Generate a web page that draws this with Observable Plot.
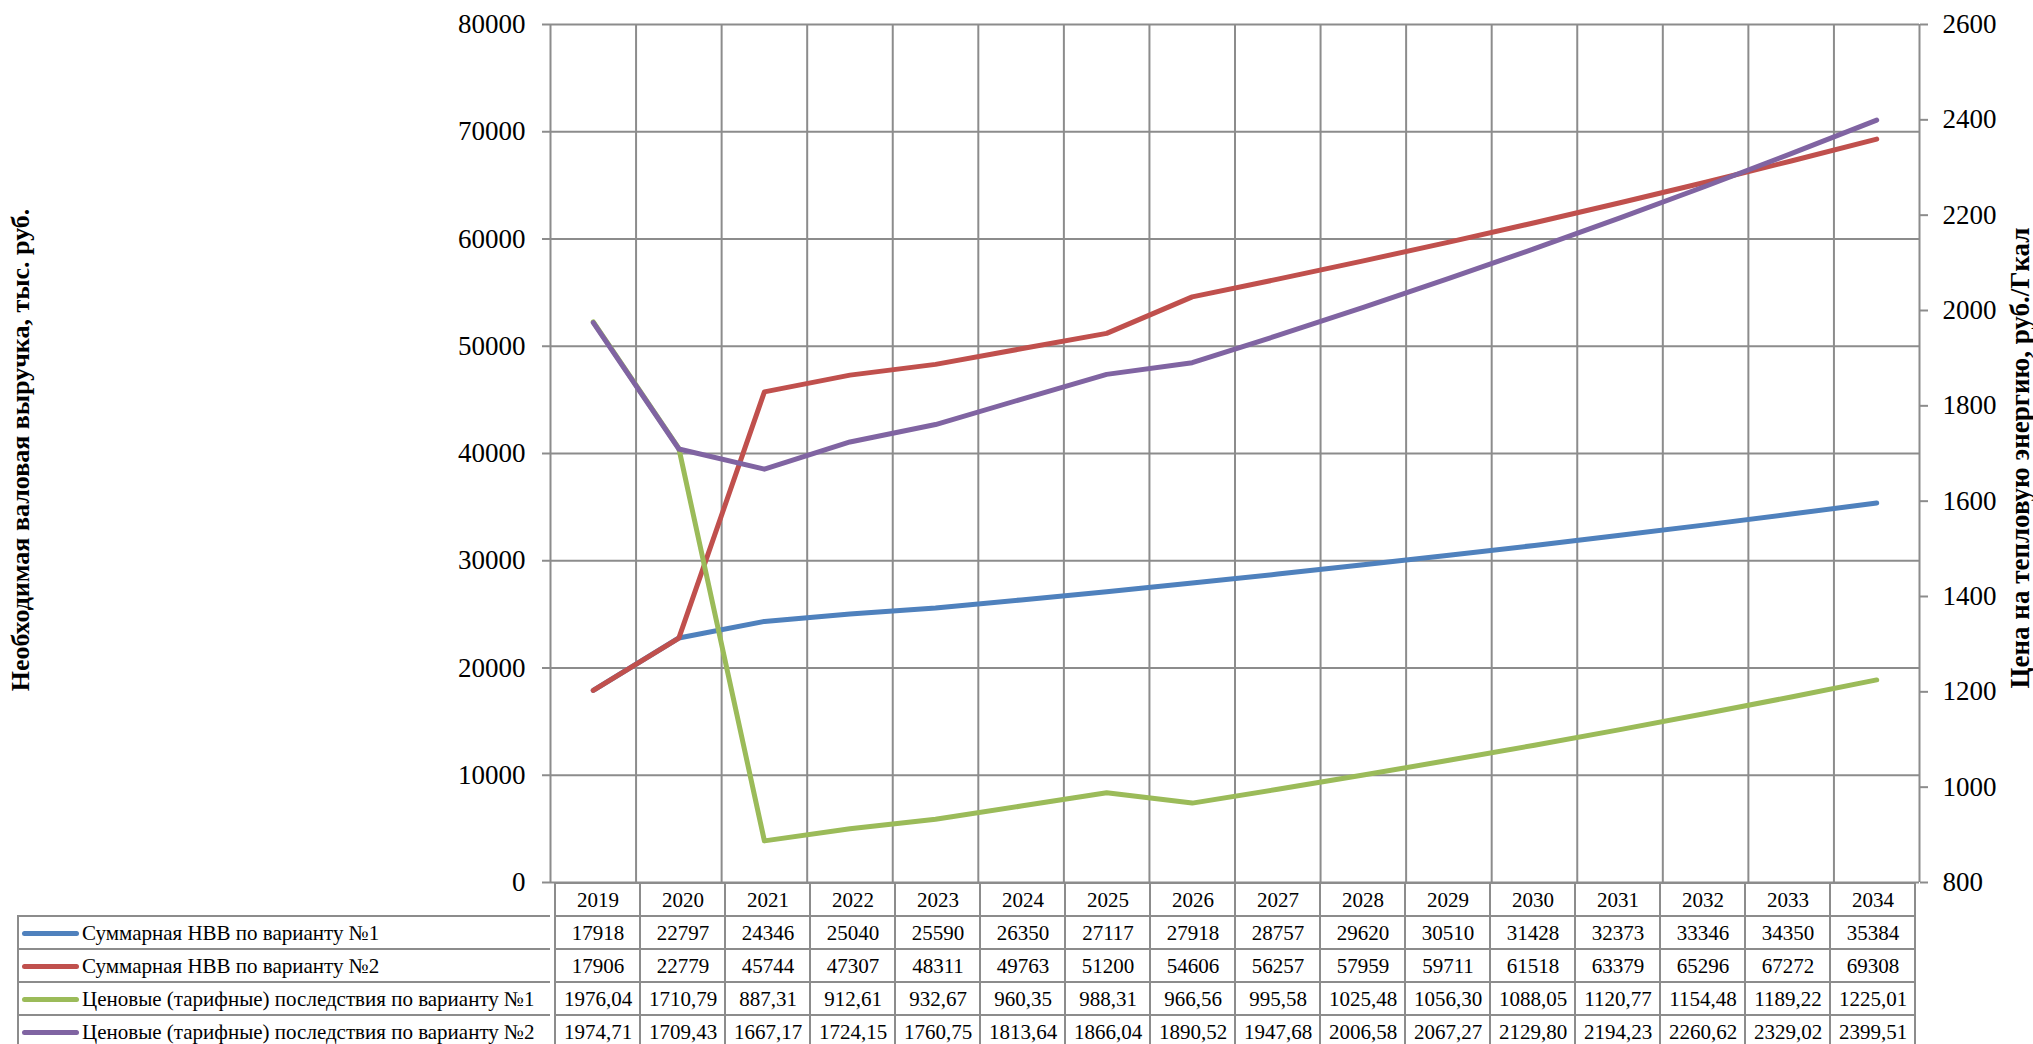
<!DOCTYPE html>
<html>
<head>
<meta charset="utf-8">
<script src="https://cdn.jsdelivr.net/npm/d3@7"></script>
<script src="https://cdn.jsdelivr.net/npm/@observablehq/plot@0.6"></script>
<style>
  html, body { margin: 0; padding: 0; background: white; overflow: hidden; }
  #wrap { position: relative; width: 2033px; height: 1044px; font-family: "Liberation Serif", "Times New Roman", serif; }
  #wrap svg { position: absolute; left: 0; overflow: visible; }
  .ttl { position: absolute; font-weight: bold; font-size: 26px; white-space: nowrap; transform: translate(-50%, -50%) rotate(-90deg); }
  .leg { position: absolute; box-sizing: border-box; border-left: 2px solid #8c8c8c; border-top: 2px solid #8c8c8c; display: flex; align-items: center; font-size: 21px; white-space: nowrap; }
  .sw { width: 57px; height: 5px; border-radius: 3px; margin: 0 3px 0 3px; }
</style>
</head>
<body>
<div id="wrap"></div>
<script>
// ---- data ----
const years = [2019, 2020, 2021, 2022, 2023, 2024, 2025, 2026, 2027, 2028, 2029, 2030, 2031, 2032, 2033, 2034];
const nvv1 = [17918, 22797, 24346, 25040, 25590, 26350, 27117, 27918, 28757, 29620, 30510, 31428, 32373, 33346, 34350, 35384];
const nvv2 = [17906, 22779, 45744, 47307, 48311, 49763, 51200, 54606, 56257, 57959, 59711, 61518, 63379, 65296, 67272, 69308];
const price1 = [1976.04, 1710.79, 887.31, 912.61, 932.67, 960.35, 988.31, 966.56, 995.58, 1025.48, 1056.30, 1088.05, 1120.77, 1154.48, 1189.22, 1225.01];
const price2 = [1974.71, 1709.43, 1667.17, 1724.15, 1760.75, 1813.64, 1866.04, 1890.52, 1947.68, 2006.58, 2067.27, 2129.80, 2194.23, 2260.62, 2329.02, 2399.51];
const seriesNames = [
  "Суммарная НВВ по варианту №1",
  "Суммарная НВВ по варианту №2",
  "Ценовые (тарифные) последствия по варианту №1",
  "Ценовые (тарифные) последствия по варианту №2"
];
const seriesColors = ["#4F81BD", "#C0504D", "#9BBB59", "#8064A2"];
const leftTicks = [0, 10000, 20000, 30000, 40000, 50000, 60000, 70000, 80000];
const rightTicks = [800, 1000, 1200, 1400, 1600, 1800, 2000, 2200, 2400, 2600];
const leftTitle = "Необходимая валовая выручка, тыс. руб.";
const rightTitle = "Цена на тепловую энергию, руб./Гкал";

// ---- helpers ----
const L0 = leftTicks[0], L1 = leftTicks[leftTicks.length - 1];
const R0 = rightTicks[0], R1 = rightTicks[rightTicks.length - 1];
const toLeft = v => L0 + (v - R0) / (R1 - R0) * (L1 - L0);
const fromLeft = v => R0 + (v - L0) / (L1 - L0) * (R1 - R0);

const seriesVals = [nvv1, nvv2, price1, price2];
const isRight = [false, false, true, true];
const fmtInt = d => String(d);
const fmtDec = d => d3.format(".2f")(d).replace(".", ",");

const lineData = [];
seriesVals.forEach((vals, s) => {
  vals.forEach((v, i) => lineData.push({series: seriesNames[s], year: years[i], y: isRight[s] ? toLeft(v) : v}));
});
const boundaries = years.map(y => y - 0.5).concat([years[years.length - 1] + 0.5]);

const W = 2033, ML = 550, MR = 114, MT = 24, PLOT_BOTTOM = 882;
const grid = "#8c8c8c";
const font = "Liberation Serif";

const chart = Plot.plot({
  width: W,
  height: PLOT_BOTTOM + 20,
  marginLeft: ML,
  marginRight: MR,
  marginTop: MT,
  marginBottom: 20,
  style: {fontFamily: font, fontSize: "27px", background: "transparent", overflow: "visible"},
  x: {domain: [boundaries[0], boundaries[boundaries.length - 1]], axis: null},
  y: {domain: [L0, L1], axis: null},
  color: {domain: seriesNames, range: seriesColors},
  marks: [
    Plot.ruleY(leftTicks, {stroke: grid, strokeWidth: 2}),
    Plot.ruleX(boundaries, {stroke: grid, strokeWidth: 2}),
    Plot.line(lineData, {x: "year", y: "y", z: "series", stroke: "series", strokeWidth: 5, strokeLinejoin: "round", strokeLinecap: "round"}),
    Plot.axisY(leftTicks, {anchor: "left", tickSize: 8, tickPadding: 17, fontSize: 27, stroke: grid, strokeWidth: 2, fill: "black", tickFormat: fmtInt, label: null}),
    Plot.axisY(rightTicks.map(toLeft), {anchor: "right", tickSize: 8, tickPadding: 15, fontSize: 27, stroke: grid, strokeWidth: 2, fill: "black", tickFormat: v => fmtInt(Math.round(fromLeft(v))), label: null})
  ]
});
chart.style.top = "0px";

// ---- data table below the chart ----
const rows = ["hdr", ...seriesNames];
const cells = [];
years.forEach((yr, i) => {
  cells.push({row: "hdr", year: yr, text: String(yr)});
  seriesVals.forEach((vals, s) => cells.push({row: seriesNames[s], year: yr, text: isRight[s] ? fmtDec(vals[i]) : fmtInt(vals[i])}));
});
const ROW_H = 33.2;
const table = Plot.plot({
  width: W,
  height: Math.round(ROW_H * rows.length),
  marginLeft: ML,
  marginRight: MR,
  marginTop: 0,
  marginBottom: 0,
  style: {fontFamily: font, fontSize: "21px", background: "transparent", overflow: "visible"},
  x: {type: "band", domain: years, padding: 0, axis: null},
  y: {type: "band", domain: rows, padding: 0, axis: null},
  marks: [
    Plot.cell(cells, {x: "year", y: "row", fill: "none", stroke: grid, strokeWidth: 2}),
    Plot.text(cells, {x: "year", y: "row", text: "text", fontSize: 21, fill: "black"})
  ]
});
table.style.top = PLOT_BOTTOM + "px";

const wrap = document.getElementById("wrap");
wrap.appendChild(chart);
wrap.appendChild(table);

// legend column of the table
const ys = table.scale("y");
seriesNames.forEach((name, s) => {
  const d = document.createElement("div");
  d.className = "leg";
  d.style.left = "17px";
  d.style.width = (ML - 17) + "px";
  d.style.top = (PLOT_BOTTOM + ys.apply(name) - 1) + "px";
  d.style.height = (ys.bandwidth + 2) + "px";
  const sw = document.createElement("span");
  sw.className = "sw";
  sw.style.background = seriesColors[s];
  d.appendChild(sw);
  d.appendChild(document.createTextNode(name));
  wrap.appendChild(d);
});

// axis titles
const t1 = document.createElement("div");
t1.className = "ttl"; t1.textContent = leftTitle;
t1.style.left = "21px"; t1.style.top = "450px";
wrap.appendChild(t1);
const t2 = document.createElement("div");
t2.className = "ttl"; t2.textContent = rightTitle;
t2.style.left = "2020px"; t2.style.top = "458px";
t2.style.fontSize = "27px";
wrap.appendChild(t2);
</script>
</body>
</html>
